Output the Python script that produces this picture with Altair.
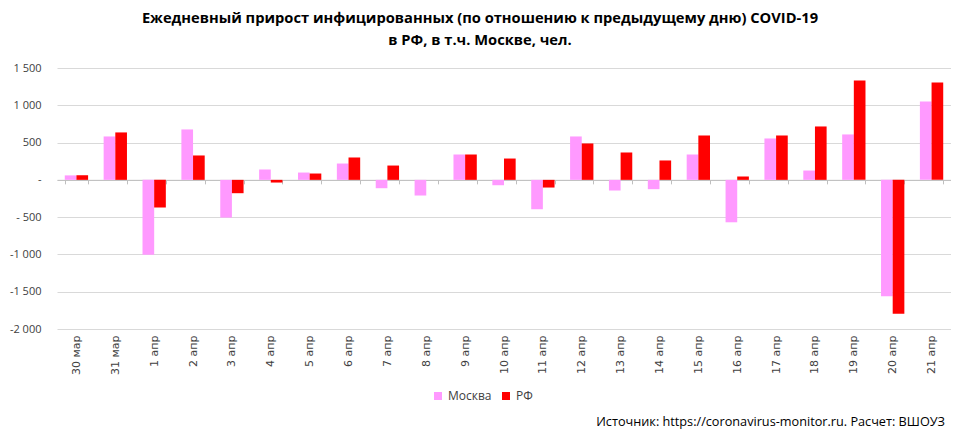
import altair as alt
import pandas as pd

dates = ["30 мар", "31 мар", "1 апр", "2 апр", "3 апр", "4 апр", "5 апр", "6 апр",
         "7 апр", "8 апр", "9 апр", "10 апр", "11 апр", "12 апр", "13 апр", "14 апр",
         "15 апр", "16 апр", "17 апр", "18 апр", "19 апр", "20 апр", "21 апр"]
moscow = [60, 582, -1003, 676, -506, 139, 98, 219, -112, -210, 340, -72, -394,
          582, -143, -125, 340, -569, 555, 125, 609, -1562, 1052]
rf = [62, 636, -372, 327, -179, -36, 85, 300, 192, 0, 340, 286, -103,
      488, 367, 260, 595, 45, 595, 716, 1334, -1795, 1307]
series = ["Москва", "РФ"]
colors = ["#ff99ff", "#ff0000"]
title_lines = ["Ежедневный прирост инфицированных (по отношению к предыдущему дню) COVID-19",
               "в РФ, в т.ч. Москве, чел."]
source_text = "Источник: https://coronavirus-monitor.ru. Расчет: ВШОУЗ"
y_ticks = [-2000, -1500, -1000, -500, 0, 500, 1000, 1500]

rows = []
for d, m, r in zip(dates, moscow, rf):
    rows.append({"date": d, "series": series[0], "value": m})
    rows.append({"date": d, "series": series[1], "value": r})
df = pd.DataFrame(rows)

W, H = 894, 261
ymin, ymax = -2000, 1500
zero_from_bottom = H * (0 - ymin) / (ymax - ymin)

textfont = "Open Sans, Noto Sans, sans-serif"
axfont = "DejaVu Sans, Verdana, sans-serif"

ylabel = ("datum.value == 0 ? '-\u00a0\u00a0\u00a0' : (datum.value < 0 ? "
          "(datum.value > -1000 ? '- ' : '-') + replace(format(-datum.value, ','), ',', ' ') : "
          "replace(format(datum.value, ','), ',', ' '))")

bars = alt.Chart(df).mark_bar().encode(
    x=alt.X("date:N", sort=dates,
            scale=alt.Scale(paddingInner=0.4, paddingOuter=0.2),
            axis=alt.Axis(title=None, orient="bottom", offset=-zero_from_bottom,
                          labelAngle=270, labelAlign="right", labelBaseline="middle",
                          labelPadding=zero_from_bottom + 2, domainColor="#bfbfbf",
                          tickColor="#bfbfbf", tickSize=4, tickBand="extent", grid=False,
                          labelFont=axfont, labelFontSize=11, labelColor="#404040")),
    xOffset=alt.XOffset("series:N", sort=series,
                        scale=alt.Scale(paddingInner=0, paddingOuter=0)),
    y=alt.Y("value:Q", scale=alt.Scale(domain=[ymin, ymax], nice=False),
            axis=alt.Axis(title=None, values=y_ticks, labelExpr=ylabel, ticks=False,
                          domain=False, labelPadding=16, gridColor="#d9d9d9",
                          labelFont=textfont, labelFontSize=11, labelColor="#404040")),
    color=alt.Color("series:N", sort=series,
                    scale=alt.Scale(domain=series, range=colors),
                    legend=alt.Legend(title=None, orient="none", legendX=375, legendY=322,
                                      direction="horizontal", symbolType="square",
                                      symbolSize=64, symbolStrokeWidth=0,
                                      labelFont=textfont, labelFontSize=12,
                                      labelColor="#404040", columnPadding=8)),
)

src = alt.Chart(pd.DataFrame({"t": [source_text]})).mark_text(
    align="right", baseline="alphabetic", font=textfont, fontSize=12.7, color="#000000"
).encode(text="t:N", x=alt.value(888), y=alt.value(358))

chart = alt.layer(bars, src).properties(
    width=W, height=H,
    title=alt.TitleParams(text=title_lines, fontSize=14.7, fontWeight="bold", font=textfont,
                          anchor="middle", dx=-24, offset=14, lineHeight=22,
                          color="#000000"),
    autosize=alt.AutoSizeParams(type="none"),
    padding={"left": 49, "top": 60, "right": 0, "bottom": 101},
).configure_view(stroke=None)

chart.save("out.html", embed_options={"renderer": "svg", "actions": False})
